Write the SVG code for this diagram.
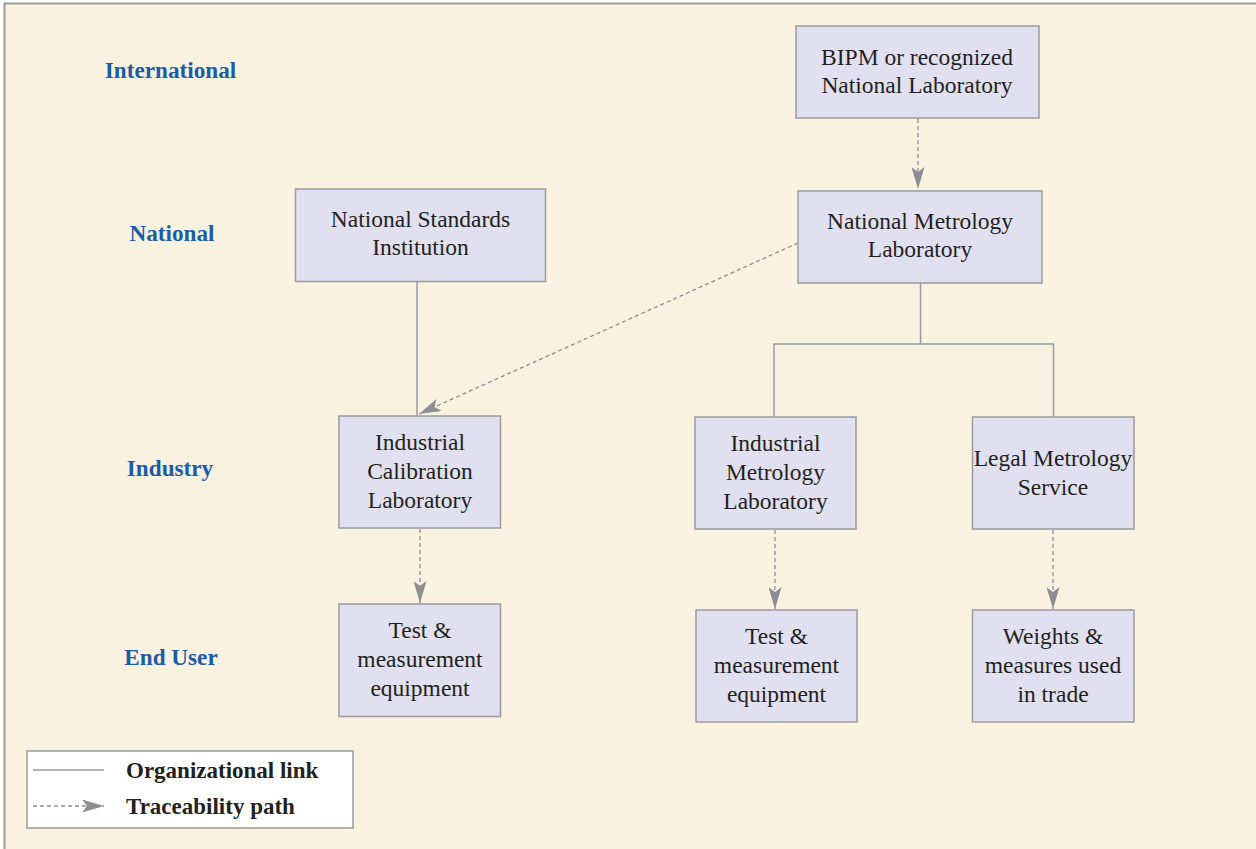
<svg xmlns="http://www.w3.org/2000/svg" width="1256" height="849" viewBox="0 0 1256 849">
  <style>
    .node rect { fill: #e0e0f0; stroke: #9a9a9e; stroke-width: 1.5; }
    .node text { font-family: "Liberation Serif", "Times New Roman", serif; font-size: 23.5px; fill: #231f20; text-anchor: middle; }
    .level { font-family: "Liberation Serif", "Times New Roman", serif; font-size: 23.2px; font-weight: bold; fill: #1a5ca6; text-anchor: middle; }
    .org { fill: none; stroke: #9a9a9e; stroke-width: 1.5; }
    .trace { fill: none; stroke: #8e8e92; stroke-width: 1.3; stroke-dasharray: 4 3; }
    .legend-text { font-family: "Liberation Serif", "Times New Roman", serif; font-size: 23px; font-weight: bold; fill: #231f20; }
  </style>
  <defs>
    <marker id="arrow" viewBox="0 0 22 13" refX="22" refY="6.5" markerWidth="22" markerHeight="13" markerUnits="userSpaceOnUse" orient="auto">
      <path d="M0,0 L22,6.5 L0,13 L5,6.5 Z" fill="#8e8e92"/>
    </marker>
  </defs>

  <!-- background panel -->
  <rect x="0" y="0" width="1256" height="849" fill="#ffffff"/>
  <rect x="4.5" y="3.5" width="1260" height="860" fill="#faf2e1" stroke="#9a9a9e" stroke-width="2"/>

  <!-- level labels -->
  <g id="levels">
    <text class="level" x="170.5" y="78">International</text>
    <text class="level" x="172" y="241">National</text>
    <text class="level" x="170" y="476">Industry</text>
    <text class="level" x="171" y="665">End User</text>
  </g>

  <!-- connectors -->
  <g id="connectors">
    <!-- organizational links -->
    <line class="org" x1="417" y1="282" x2="417" y2="416"/>
    <polyline class="org" points="920.5,283 920.5,344 774,344 774,417"/>
    <polyline class="org" points="920.5,344 1053.5,344 1053.5,417"/>
    <!-- traceability paths -->
    <line class="trace" x1="918" y1="119" x2="918" y2="189" marker-end="url(#arrow)"/>
    <line class="trace" x1="798" y1="243" x2="419" y2="414" marker-end="url(#arrow)"/>
    <line class="trace" x1="420" y1="529" x2="420" y2="603" marker-end="url(#arrow)"/>
    <line class="trace" x1="775" y1="530" x2="775" y2="609" marker-end="url(#arrow)"/>
    <line class="trace" x1="1053" y1="530" x2="1053" y2="609" marker-end="url(#arrow)"/>
  </g>

  <!-- nodes -->
  <g id="bipm" class="node">
    <rect x="796" y="26" width="243" height="92"/>
    <text x="917" y="65">BIPM or recognized</text>
    <text x="917" y="93">National Laboratory</text>
  </g>
  <g id="national-metrology-lab" class="node">
    <rect x="798" y="191" width="244" height="92"/>
    <text x="920" y="229">National Metrology</text>
    <text x="920" y="257">Laboratory</text>
  </g>
  <g id="national-standards" class="node">
    <rect x="295.5" y="189" width="250" height="92.5"/>
    <text x="420.5" y="227">National Standards</text>
    <text x="420.5" y="255">Institution</text>
  </g>
  <g id="industrial-calibration-lab" class="node">
    <rect x="339" y="416" width="161.5" height="112"/>
    <text x="420" y="450">Industrial</text>
    <text x="420" y="479">Calibration</text>
    <text x="420" y="508">Laboratory</text>
  </g>
  <g id="industrial-metrology-lab" class="node">
    <rect x="695" y="417" width="161" height="112"/>
    <text x="775.5" y="451">Industrial</text>
    <text x="775.5" y="480">Metrology</text>
    <text x="775.5" y="509">Laboratory</text>
  </g>
  <g id="legal-metrology-service" class="node">
    <rect x="972.5" y="417" width="161.5" height="112"/>
    <text x="1053" y="466">Legal Metrology</text>
    <text x="1053" y="495">Service</text>
  </g>
  <g id="test-equipment-1" class="node">
    <rect x="339" y="604" width="161.5" height="112.5"/>
    <text x="420" y="638">Test &amp;</text>
    <text x="420" y="667">measurement</text>
    <text x="420" y="696">equipment</text>
  </g>
  <g id="test-equipment-2" class="node">
    <rect x="696" y="610" width="161" height="112"/>
    <text x="776.5" y="644">Test &amp;</text>
    <text x="776.5" y="673">measurement</text>
    <text x="776.5" y="702">equipment</text>
  </g>
  <g id="weights-measures" class="node">
    <rect x="972.5" y="610" width="161.5" height="112"/>
    <text x="1053" y="644">Weights &amp;</text>
    <text x="1053" y="673">measures used</text>
    <text x="1053" y="702">in trade</text>
  </g>

  <!-- legend -->
  <g id="legend">
    <rect x="27" y="751" width="326" height="77" fill="#ffffff" stroke="#9a9a9e" stroke-width="1.5"/>
    <line class="org" x1="33" y1="770" x2="104" y2="770"/>
    <line class="trace" x1="33" y1="806" x2="104" y2="806" marker-end="url(#arrow)"/>
    <text class="legend-text" x="126" y="778">Organizational link</text>
    <text class="legend-text" x="126" y="814">Traceability path</text>
  </g>
</svg>
